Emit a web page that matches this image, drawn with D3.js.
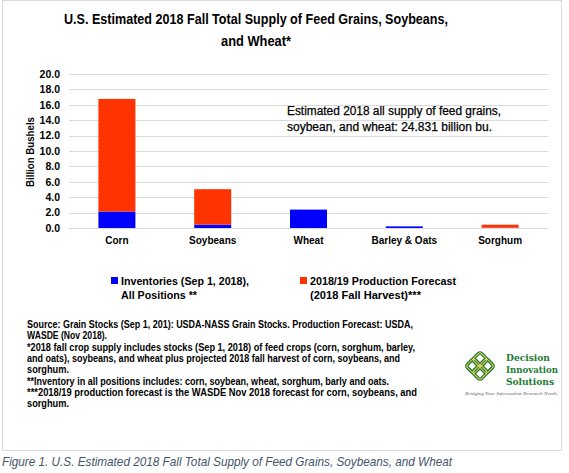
<!DOCTYPE html>
<html><head><meta charset="utf-8">
<script src="https://cdn.jsdelivr.net/npm/d3@7"></script>
<style>
html,body{margin:0;padding:0;background:#fff;}
svg{display:block;font-family:"Liberation Sans",Arial,sans-serif;}
</style></head>
<body>
<svg id="c" width="569" height="473"></svg>
<script>
const categories = ["Corn","Soybeans","Wheat","Barley & Oats","Sorghum"];
const inventories = [2.140, 0.438, 2.390, 0.210, 0.035];
const production = [14.626, 4.600, 0, 0, 0.392];
const yTicks = [0,2,4,6,8,10,12,14,16,18,20];
const seriesNames = ["Inventories (Sep 1, 2018),|All Positions **","2018/19 Production Forecast|(2018 Fall Harvest)***"];
const colors = ["#0000FF","#FF3300"];
const titleLines = ["U.S. Estimated 2018 Fall Total Supply of Feed Grains, Soybeans,","and Wheat*"];
const noteLines = ["Estimated 2018 all supply of feed grains,","soybean, and wheat: 24.831 billion bu."];
const footLines = [
 "Source: Grain Stocks (Sep 1, 201): USDA-NASS Grain Stocks.  Production Forecast: USDA,",
 "WASDE (Nov 2018).",
 "*2018 fall crop supply includes stocks (Sep 1, 2018) of feed crops (corn, sorghum, barley,",
 "and oats), soybeans, and wheat plus projected 2018 fall harvest of corn, soybeans, and",
 "sorghum.",
 "**Inventory in all positions includes: corn, soybean, wheat, sorghum, barly and oats.",
 "***2018/19 production forecast is the WASDE Nov 2018 forecast for corn, soybeans, and",
 "sorghum."];
const footWidths = [386,80,388,373,42,362,390,42];
const caption = "Figure 1. U.S. Estimated 2018 Fall Total Supply of Feed Grains, Soybeans, and Wheat";

const svg = d3.select("#c");
const fit = (sel,w)=>sel.attr("textLength",w).attr("lengthAdjust","spacingAndGlyphs");

// frame
svg.append("rect").attr("x",2.5).attr("y",0.5).attr("width",559).attr("height",450)
  .attr("fill","#fff").attr("stroke","#d9d9d9").attr("stroke-width",1);

// title
const tt = svg.append("text").attr("text-anchor","middle").attr("font-weight","bold")
  .attr("font-size",15).attr("fill","#000");
titleLines.forEach((l,i)=>{
  const s = tt.append("tspan").attr("x",256).attr("y",24+i*22).text(l);
  fit(s, i===0?384:70);
});

const x = d3.scaleBand().domain(categories).range([69,548]).padding(0);
const y = d3.scaleLinear().domain([0,20]).range([228,74]);
const barW = 37;

// grid
svg.append("g").selectAll("line").data(yTicks).join("line")
  .attr("x1",69).attr("x2",548).attr("y1",d=>Math.round(y(d))+0.5).attr("y2",d=>Math.round(y(d))+0.5)
  .attr("stroke","#d9d9d9").attr("stroke-width",1);

// y axis
const yAxis = d3.axisLeft(y).tickValues(yTicks).tickFormat(d3.format(".1f")).tickSize(0).tickPadding(0);
const ga = svg.append("g").attr("transform","translate(60,0)").call(yAxis);
ga.select(".domain").remove();
ga.selectAll("text").attr("font-size",10.5).attr("font-weight","bold").attr("fill","#000")
  .attr("font-family","'Liberation Sans',Arial,sans-serif");

svg.append("text").attr("transform","translate(34,152) rotate(-90)").attr("text-anchor","middle")
  .attr("font-size",10.5).attr("font-weight","bold").attr("textLength",70).attr("lengthAdjust","spacingAndGlyphs")
  .text("Billion Bushels");

// x axis
const xAxis = d3.axisBottom(x).tickSize(0).tickPadding(0);
const gx = svg.append("g").attr("transform","translate(0,237)").call(xAxis);
gx.select(".domain").remove();
gx.selectAll("text").attr("font-size",10).attr("font-weight","bold").attr("fill","#000")
  .attr("font-family","'Liberation Sans',Arial,sans-serif");

// stacked bars
const data = categories.map((c,i)=>({cat:c, inv:inventories[i], prod:production[i]}));
const stack = d3.stack().keys(["inv","prod"])(data);
svg.append("g").selectAll("g").data(stack).join("g").attr("fill",(d,i)=>colors[i])
  .selectAll("rect").data(d=>d).join("rect")
  .attr("x",d=>x(d.data.cat)+x.bandwidth()/2-barW/2).attr("width",barW)
  .attr("y",d=>y(d[1])).attr("height",d=>Math.max(0,y(d[0])-y(d[1])));

// annotation
const an = svg.append("text").attr("font-size",12).attr("fill","#000").attr("stroke","#000").attr("stroke-width",0.25);
noteLines.forEach((l,i)=>{
  fit(an.append("tspan").attr("x",287).attr("y",115+i*15.5).text(l), i===0?214:205);
});

// legend
const legX = [111,300];
const legW = [[128,76],[146,111]];
seriesNames.forEach((n,i)=>{
  svg.append("rect").attr("x",legX[i]).attr("y",277).attr("width",7).attr("height",7).attr("fill",colors[i]);
  const t = svg.append("text").attr("font-size",11.5).attr("font-weight","bold");
  n.split("|").forEach((l,j)=>{
    fit(t.append("tspan").attr("x",legX[i]+10).attr("y",285+j*14).text(l), legW[i][j]);
  });
});

// footnotes
const ft = svg.append("text").attr("font-size",10).attr("font-weight","bold").attr("fill","#000");
footLines.forEach((l,i)=>{
  fit(ft.append("tspan").attr("x",27).attr("y",328+i*11.3).text(l), footWidths[i]);
});

// logo
const lg = svg.append("g").attr("transform","translate(480,366)");
const knots = [[-4.5,-4.5],[4.5,-4.5],[4.5,4.5],[-4.5,4.5]];
knots.forEach(k=>{
  lg.append("rect").attr("x",k[0]-5.5).attr("y",k[1]-5.5).attr("width",11).attr("height",11).attr("rx",2.5)
    .attr("transform","rotate(45)").attr("fill","none").attr("stroke","#1e7b34").attr("stroke-width",3.5);
});
knots.forEach(k=>{
  lg.append("rect").attr("x",k[0]-5.5).attr("y",k[1]-5.5).attr("width",11).attr("height",11).attr("rx",2.5)
    .attr("transform","rotate(45)").attr("fill","none").attr("stroke","#f2d25a").attr("stroke-width",1);
});
const lt = svg.append("text").attr("font-family","'DejaVu Serif','Liberation Serif',serif")
  .attr("font-weight","bold").attr("font-size",9.5).attr("fill","#1e7b34");
["Decision","Innovation","Solutions"].forEach((l,i)=>{
  fit(lt.append("tspan").attr("x",506).attr("y",361+i*12).text(l), [44,52,48][i]);
});
svg.append("text").attr("x",465).attr("y",395).attr("font-size",3.5).attr("font-style","italic")
  .attr("fill","#666").attr("font-family","'Liberation Serif',serif")
  .attr("textLength",92).attr("lengthAdjust","spacingAndGlyphs").text("Bridging Your Information Research Needs");

// caption
svg.append("text").attr("x",2).attr("y",466).attr("font-size",13).attr("font-style","italic")
  .attr("fill","#44546a").attr("textLength",450).attr("lengthAdjust","spacingAndGlyphs").text(caption);
</script>
</body></html>
